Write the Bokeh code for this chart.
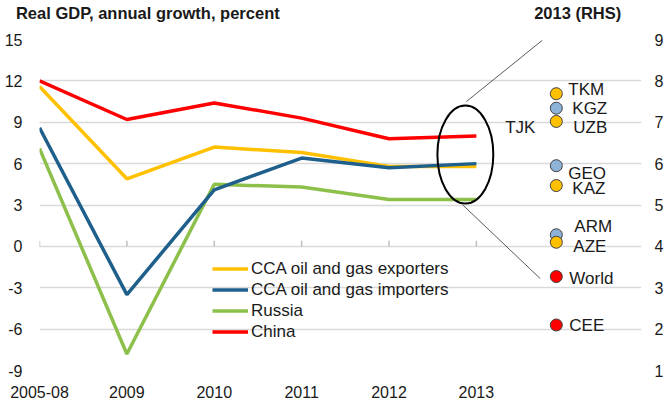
from bokeh.plotting import figure
from bokeh.models import (Range1d, LinearAxis, FixedTicker, Legend, LegendItem,
                          ColumnDataSource)
from bokeh.core.properties import value
from bokeh.embed import file_html
from bokeh.resources import INLINE

# ---------------- data ----------------
categories = ["2005-08", "2009", "2010", "2011", "2012", "2013"]
cca_exporters = [11.6, 4.9, 7.2, 6.8, 5.8, 5.8]
cca_importers = [8.6, -3.5, 4.1, 6.4, 5.7, 6.0]
russia = [7.1, -7.8, 4.5, 4.3, 3.4, 3.4]
china = [12.0, 9.2, 10.4, 9.3, 7.8, 8.0]

rhs_names = ["TKM", "KGZ", "UZB", "GEO", "KAZ", "ARM", "AZE", "World", "CEE"]
rhs_values = [7.69, 7.34, 7.02, 5.95, 5.47, 4.28, 4.10, 3.27, 2.10]
rhs_groups = ["exp", "imp", "exp", "imp", "exp", "imp", "exp", "ref", "ref"]
tjk_value = 6.88

left_ticks = [-9, -6, -3, 0, 3, 6, 9, 12, 15]
right_ticks = [1, 2, 3, 4, 5, 6, 7, 8, 9]

title_left = "Real GDP, annual growth, percent"
title_right = "2013 (RHS)"

# ---------------- style ----------------
FONT = "Liberation Sans"
TXT = "#1a1a1a"
GRID = "#D9D9D9"
C_EXP = "#FFC000"
C_IMP = "#1F5F8C"
C_RUS = "#8DC04A"
C_CHN = "#FF0000"
DOT = {"exp": "#FFC000", "imp": "#8DB3D9", "ref": "#FF0000"}

# label offsets (px, screen: +y is down) for the RHS annotations
lab_dx = [12, 16, 17, 12, 16, 18, 17, 13, 13]
lab_dy = [-4, 0, 6, 8, 3, -8, 4, 2, 1]

xs = list(range(len(categories)))
dot_x = 5.915
title_pos = [1.24, 6.16]   # horizontal anchor of the two headings

p = figure(frame_width=602, frame_height=331, output_backend="svg",
           toolbar_location=None,
           x_range=Range1d(0, 6.89), y_range=Range1d(-9, 15),
           min_border_left=39, min_border_right=10, min_border_top=39,
           min_border_bottom=10)
p.outline_line_color = None
p.background_fill_color = "white"
p.extra_y_ranges = {"rhs": Range1d(1, 9)}

# axes
p.yaxis.ticker = FixedTicker(ticks=left_ticks)
p.yaxis.major_label_overrides = {t: str(t) for t in left_ticks}
p.xaxis.ticker = FixedTicker(ticks=xs)
p.xaxis.major_label_overrides = {i: c for i, c in enumerate(categories)}
for ax in (p.xaxis[0], p.yaxis[0]):
    ax.axis_line_color = None
    ax.major_tick_line_color = None
    ax.minor_tick_line_color = None
    ax.major_label_text_font = FONT
    ax.major_label_text_font_size = "16px"
    ax.major_label_text_color = TXT
p.yaxis.major_label_standoff = 11
p.xaxis.major_label_standoff = 9

rax = LinearAxis(y_range_name="rhs", ticker=FixedTicker(ticks=right_ticks))
rax.axis_line_color = None
rax.major_tick_line_color = None
rax.minor_tick_line_color = None
rax.major_label_text_font = FONT
rax.major_label_text_font_size = "16px"
rax.major_label_text_color = TXT
rax.major_label_standoff = 7
p.add_layout(rax, "right")

# headings drawn as labels of a bare top axis
tax = LinearAxis(ticker=FixedTicker(ticks=title_pos))
tax.major_label_overrides = {title_pos[0]: title_left, title_pos[1]: title_right}
tax.axis_line_color = None
tax.major_tick_line_color = None
tax.minor_tick_line_color = None
tax.major_label_text_font = FONT
tax.major_label_text_font_size = "16.5px"
tax.major_label_text_font_style = "bold"
tax.major_label_text_color = TXT
tax.major_label_standoff = 12
p.add_layout(tax, "above")

p.xgrid.grid_line_color = None
p.ygrid.grid_line_color = GRID
p.ygrid.grid_line_width = 1.5

# small tick marks on the zero line
p.segment(x0=xs, y0=[0] * len(xs), x1=xs, y1=[0.4] * len(xs),
          line_color="#BFBFBF", line_width=1.5)

# series
series = [("CCA oil and gas exporters", cca_exporters, C_EXP),
          ("CCA oil and gas importers", cca_importers, C_IMP),
          ("Russia", russia, C_RUS),
          ("China", china, C_CHN)]
items = []
rends = {}
for name, vals, col in series:
    r = p.line(xs, vals, line_color=col, line_width=3.5)
    rends[name] = r
    items.append(LegendItem(label=name, renderers=[r]))
for name in ["Russia", "CCA oil and gas exporters", "CCA oil and gas importers", "China"]:
    p.renderers.remove(rends[name])
    p.renderers.append(rends[name])

legend = Legend(items=items, location=(173, 28), orientation="vertical",
                label_text_font=FONT, label_text_font_size="17px",
                label_text_color=TXT, glyph_width=36, glyph_height=21,
                label_height=21, label_standoff=3, spacing=0, padding=0,
                margin=0, border_line_color=None, background_fill_alpha=0)
p.add_layout(legend)

# ellipse call-out around 2013
p.ellipse(x=4.874, y=6.66, width=0.64, height=7.1, fill_color=None,
          line_color="black", line_width=2)
p.segment(x0=[4.886, 4.84], y0=[10.5, 3.03], x1=[5.752, 5.73], y1=[14.93, -2.33],
          line_color="#595959", line_width=1)

# RHS dots
src = ColumnDataSource(dict(x=[dot_x] * len(rhs_names), y=rhs_values,
                            name=rhs_names, fill=[DOT[g] for g in rhs_groups],
                            dx=lab_dx, dy=lab_dy))
p.scatter("x", "y", source=src, y_range_name="rhs", size=12,
          fill_color="fill", line_color="#404040", line_width=1)
p.text("x", "y", text="name", source=src, y_range_name="rhs",
       x_offset="dx", y_offset="dy", text_font=value(FONT),
       text_font_size="17px", text_color=TXT, text_baseline="middle",
       text_align="left")
p.text(x=[5.33], y=[tjk_value], text=["TJK"], y_range_name="rhs",
       text_font=value(FONT), text_font_size="17px", text_color=TXT,
       text_baseline="middle", text_align="left")

open("out.html", "w").write(file_html(p, INLINE))
